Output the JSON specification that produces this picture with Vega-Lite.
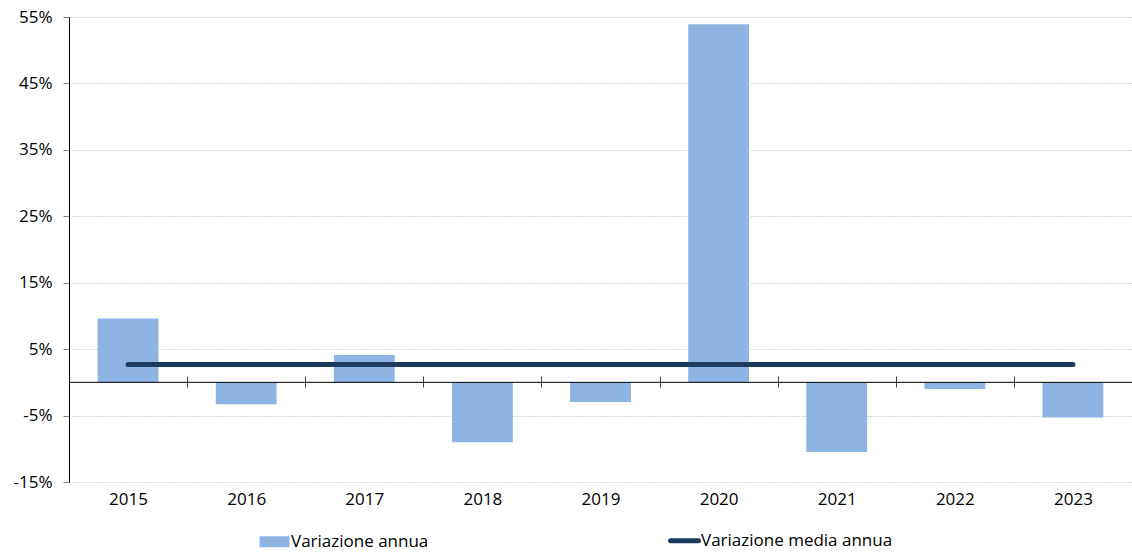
{
  "$schema": "https://vega.github.io/schema/vega-lite/v6.json",
  "width": 1063,
  "height": 465,
  "autosize": {"type": "none"},
  "padding": {"left": 69, "top": 17, "right": 0, "bottom": 70},
  "background": "white",
  "config": {
    "view": {"stroke": null},
    "font": "Open Sans",
    "axis": {"labelFont": "Open Sans", "labelFontSize": 17, "labelColor": "#000", "title": null}
  },
  "data": {
    "values": [
      {"anno": "2015", "valore": 9.6, "media": 2.7},
      {"anno": "2016", "valore": -3.3, "media": 2.7},
      {"anno": "2017", "valore": 4.1, "media": 2.7},
      {"anno": "2018", "valore": -9.0, "media": 2.7},
      {"anno": "2019", "valore": -2.95, "media": 2.7},
      {"anno": "2020", "valore": 53.9, "media": 2.7},
      {"anno": "2021", "valore": -10.5, "media": 2.7},
      {"anno": "2022", "valore": -1.0, "media": 2.7},
      {"anno": "2023", "valore": -5.3, "media": 2.7}
    ]
  },
  "layer": [
    {
      "mark": {"type": "bar", "width": {"band": 0.515}},
      "encoding": {
        "x": {
          "field": "anno",
          "type": "nominal",
          "scale": {"paddingInner": 0, "paddingOuter": 0},
          "axis": {
            "orient": "bottom",
            "offset": -106,
            "domain": false,
            "ticks": true,
            "tickBand": "extent",
            "tickSize": 11,
            "tickColor": "#404040",
            "tickWidth": 1,
            "labelPadding": 104,
            "labelAngle": 0,
            "grid": false,
            "title": null
          }
        },
        "y": {
          "field": "valore",
          "type": "quantitative",
          "scale": {"domain": [-15, 55], "nice": false, "zero": false},
          "axis": {
            "values": [-15, -5, 5, 15, 25, 35, 45, 55],
            "labelExpr": "datum.value + '%'",
            "tickSize": 6,
            "tickColor": "#7f7f7f",
            "domainColor": "#000",
            "labelPadding": 11,
            "grid": true,
            "gridColor": "#B0B0B0",
            "gridDash": [1, 2],
            "title": null
          }
        },
        "color": {
          "datum": "Variazione annua",
          "scale": {
            "domain": ["Variazione annua", "Variazione media annua"],
            "range": ["#8EB4E3", "#1B3A5E"]
          },
          "legend": {
            "orient": "none",
            "legendX": 197,
            "legendY": 515,
            "direction": "horizontal",
            "title": null,
            "labelFont": "Open Sans",
            "labelFontSize": 17,
            "labelColor": "#000",
            "labelOffset": 8,
            "labelLimit": 400,
            "columnPadding": 231,
            "symbolSize": 900,
            "encode": {
              "symbols": {
                "update": {
                  "shape": {"signal": "datum.value === 'Variazione annua' ? 'M-1,-0.367H1V0.367H-1Z' : 'M-0.93,0H0.93'"},
                  "fill": {"signal": "datum.value === 'Variazione annua' ? '#8EB4E3' : 'transparent'"},
                  "stroke": {"signal": "datum.value === 'Variazione annua' ? 'transparent' : '#1B3A5E'"},
                  "strokeWidth": {"signal": "datum.value === 'Variazione annua' ? 0 : 5"},
                  "strokeCap": {"value": "round"},
                  "opacity": {"value": 1}
                }
              }
            }
          }
        }
      }
    },
    {
      "data": {"values": [{"zero": 0}]},
      "mark": {"type": "rule", "color": "#000", "strokeWidth": 1},
      "encoding": {"y": {"field": "zero", "type": "quantitative"}}
    },
    {
      "mark": {"type": "line", "strokeWidth": 5, "strokeCap": "round"},
      "encoding": {
        "x": {"field": "anno", "type": "nominal"},
        "y": {"field": "media", "type": "quantitative"},
        "color": {"datum": "Variazione media annua"}
      }
    }
  ]
}
